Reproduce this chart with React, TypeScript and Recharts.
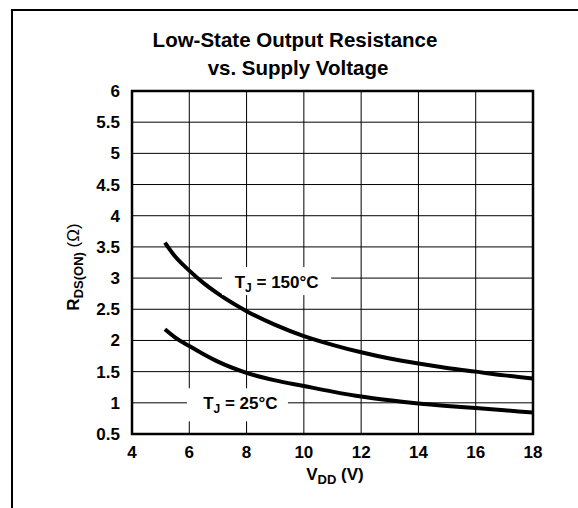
import { LineChart, Line, XAxis, YAxis, CartesianGrid, ReferenceArea, ReferenceDot } from 'recharts'

// supply voltage (V)
const vdd = [5.15, 5.5, 6, 6.5, 7, 8, 9, 10, 11, 12, 13, 14, 15, 16, 17, 18]
// R_DS(ON) at TJ = 150°C
const r150 = [3.57, 3.35, 3.12, 2.92, 2.75, 2.47, 2.25, 2.07, 1.93, 1.81, 1.71, 1.63, 1.56, 1.5, 1.44, 1.39]
// R_DS(ON) at TJ = 25°C
const r25 = [2.18, 2.05, 1.91, 1.78, 1.66, 1.48, 1.36, 1.27, 1.18, 1.1, 1.04, 0.99, 0.95, 0.915, 0.88, 0.845]

const xTicks = [4, 6, 8, 10, 12, 14, 16, 18]
const yTicks = [0.5, 1, 1.5, 2, 2.5, 3, 3.5, 4, 4.5, 5, 5.5, 6]

// curve annotations: where they sit on the chart and what they say
const labelX = [9.05, 7.68]
const labelY = [2.92, 0.976]
const labelTemp = ['150°C', '25°C']
const labelWidth = [109, 101]

const data = vdd.map((v, i) => ({ vdd: v, r150: r150[i], r25: r25[i] }))

const FONT = '"Liberation Sans", Arial, Helvetica, sans-serif'

const XTick = (props: any) => {
  const { x, y, payload } = props
  return (
    <text x={x} y={y + 22} textAnchor="middle" fontFamily={FONT} fontSize={17} fontWeight={700} fill="#000">
      {payload.value}
    </text>
  )
}

const YTick = (props: any) => {
  const { x, y, payload } = props
  return (
    <text x={x - 10} y={y + 6} textAnchor="end" fontFamily={FONT} fontSize={17} fontWeight={700} fill="#000">
      {payload.value}
    </text>
  )
}

const makeLabel = (idx: number) => (props: any) => {
  const { cx, cy } = props
  const w = labelWidth[idx]
  return (
    <g>
      <rect x={cx - w / 2} y={cy - 16} width={w} height={idx === 0 ? 28 : 33} fill="#fff" />
      <text
        x={cx + (idx === 1 ? 3 : 0)}
        y={cy + 5}
        textAnchor="middle"
        fontFamily={FONT}
        fontSize={17}
        fontWeight={700}
        fill="#000"
      >
        <tspan>T</tspan>
        <tspan dy={4} fontSize={12}>J</tspan>
        <tspan dy={-4}>{' = ' + labelTemp[idx]}</tspan>
      </text>
    </g>
  )
}

const App = () => {
  const wrapStyle: React.CSSProperties = {
    position: 'fixed',
    left: 0,
    top: 0,
    width: 578,
    height: 508,
    background: '#fff',
    overflow: 'hidden',
  }

  const overlayStyle: React.CSSProperties = {
    position: 'absolute',
    left: 0,
    top: 0,
    pointerEvents: 'none',
  }

  return (
    <div style={wrapStyle}>
      <LineChart
        width={578}
        height={508}
        data={data}
        margin={{ top: 91, right: 45, bottom: 0, left: 0 }}
        style={{ position: 'absolute', left: 0, top: 0 }}
      >
        <CartesianGrid stroke="#000" strokeWidth={1} />
        <XAxis
          dataKey="vdd"
          type="number"
          domain={[4, 18]}
          ticks={xTicks}
          allowDataOverflow
          height={74}
          axisLine={false}
          tickLine={false}
          tickSize={0}
          tick={<XTick />}
          interval={0}
        />
        <YAxis
          type="number"
          domain={[0.5, 6]}
          ticks={yTicks}
          allowDataOverflow
          width={132}
          axisLine={false}
          tickLine={false}
          tickSize={0}
          tick={<YTick />}
          interval={0}
        />
        <ReferenceArea x1={4} x2={18} y1={0.5} y2={6} fill="none" stroke="#000" strokeWidth={2.5} />
        {labelX.map((x, i) => (
          <ReferenceDot key={i} x={x} y={labelY[i]} r={0} shape={makeLabel(i)} />
        ))}
        <Line type="monotone" dataKey="r150" stroke="#000" strokeWidth={4} dot={false} isAnimationActive={false} />
        <Line type="monotone" dataKey="r25" stroke="#000" strokeWidth={4} dot={false} isAnimationActive={false} />
      </LineChart>

      <svg width={578} height={508} style={overlayStyle}>
        <path d="M12 508 L12 10 L578 10" fill="none" stroke="#000" strokeWidth={2} />
        <text x={295} y={47} textAnchor="middle" fontFamily={FONT} fontSize={20.5} fontWeight={700} fill="#000">
          Low-State Output Resistance
        </text>
        <text x={298} y={75} textAnchor="middle" fontFamily={FONT} fontSize={20.5} fontWeight={700} fill="#000">
          vs. Supply Voltage
        </text>
        <text x={335} y={480} textAnchor="middle" fontFamily={FONT} fontSize={17} fontWeight={700} fill="#000">
          <tspan>V</tspan>
          <tspan dy={4} fontSize={13}>DD</tspan>
          <tspan dy={-4}> (V)</tspan>
        </text>
        <text
          x={0}
          y={0}
          transform="translate(79 267) rotate(-90)"
          textAnchor="middle"
          fontFamily={FONT}
          fontSize={17}
          fontWeight={700}
          fill="#000"
        >
          <tspan>R</tspan>
          <tspan dy={4} fontSize={13}>DS(ON)</tspan>
          <tspan dy={-4} fontWeight={400}> (Ω)</tspan>
        </text>
      </svg>
    </div>
  )
}

export default App
